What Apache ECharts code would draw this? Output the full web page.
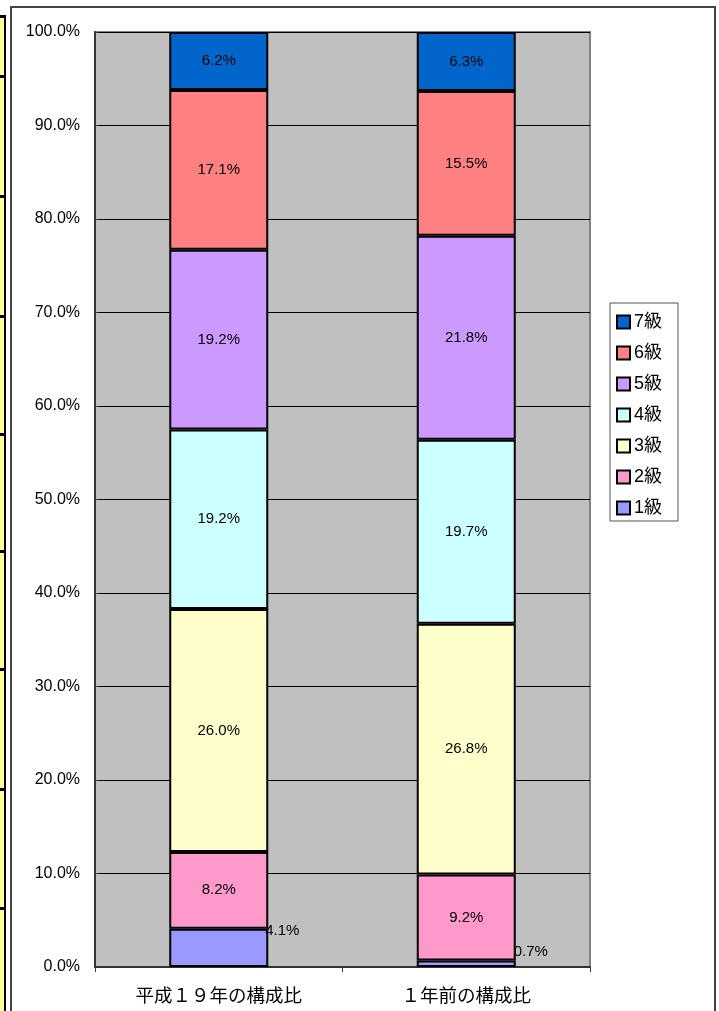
<!DOCTYPE html>
<html>
<head>
<meta charset="utf-8">
<script src="https://cdn.jsdelivr.net/npm/echarts@6/dist/echarts.min.js"></script>
<style>
  html, body { margin: 0; padding: 0; background: #fff; }
  #main { width: 719px; height: 1011px; }
</style>
</head>
<body>
<div id="main"></div>
<script>
// categories / series
const categories = ['平成１９年の構成比', '１年前の構成比'];
const grades = ['1級', '2級', '3級', '4級', '5級', '6級', '7級'];
const colors = ['#9999ff', '#ff99cc', '#ffffcc', '#ccffff', '#cc99ff', '#ff8080', '#0066cc'];
// percentage of each grade, [平成19年, 1年前]
const grade1 = [4.1, 0.7];
const grade2 = [8.2, 9.2];
const grade3 = [26.0, 26.8];
const grade4 = [19.2, 19.7];
const grade5 = [19.2, 21.8];
const grade6 = [17.1, 15.5];
const grade7 = [6.2, 6.3];
const yTicks = [0, 10, 20, 30, 40, 50, 60, 70, 80, 90, 100];

const seriesValues = [grade1, grade2, grade3, grade4, grade5, grade6, grade7];
const font = '"Liberation Sans", "Noto Sans CJK JP", sans-serif';
const cjkFont = '"Noto Sans CJK JP", sans-serif';

const chart = echarts.init(document.getElementById('main'), null, { renderer: 'canvas' });

const series = grades.map(function (name, i) {
  let data = seriesValues[i].slice();
  if (i === 0) {
    // 1級 labels sit just outside the bar on the right
    const offs = [[-3, 2], [-2, -9]];
    data = data.map(function (v, j) {
      return {
        value: v,
        label: {
          position: ['100%', 0],
          align: 'left',
          verticalAlign: 'middle',
          offset: offs[j]
        }
      };
    });
  }
  return {
    name: name,
    type: 'bar',
    stack: 'total',
    barWidth: '40%',
    data: data,
    itemStyle: { color: colors[i], borderColor: '#000', borderWidth: 2 },
    label: {
      show: true,
      position: 'inside',
      color: '#000',
      fontSize: 15,
      fontFamily: font,
      formatter: function (p) { return p.value.toFixed(1) + '%'; }
    },
    emphasis: { disabled: true }
  };
});

// left strip (sheet cells) lines
const cellLines = [15, 75, 195, 315, 433, 550, 668, 788, 907];
const graphics = [
  { type: 'rect', shape: { x: 0, y: 15, width: 5, height: 1000 }, style: { fill: '#ffff99' }, z: -10 },
  { type: 'rect', shape: { x: 4, y: 15, width: 2, height: 1000 }, style: { fill: '#000' }, z: -9 },
  { type: 'rect', shape: { x: 11, y: 7, width: 704, height: 1020 }, style: { fill: 'none', stroke: '#444', lineWidth: 2 }, z: -10 }
];
cellLines.forEach(function (y) {
  graphics.push({ type: 'rect', shape: { x: 0, y: y, width: 6, height: 3 }, style: { fill: '#000' }, z: -9 });
});

const option = {
  backgroundColor: '#fff',
  animation: false,
  textStyle: { fontFamily: font },
  graphic: graphics,
  grid: {
    left: 95, right: 129, top: 32, bottom: 44,
    show: true,
    backgroundColor: '#c0c0c0',
    borderColor: '#808080',
    borderWidth: 2
  },
  legend: {
    orient: 'vertical',
    left: 610,
    top: 303,
    width: 74,
    data: grades.slice().reverse(),
    icon: 'rect',
    itemWidth: 13,
    itemHeight: 13,
    itemGap: 13,
    padding: [10, 16, 4, 6],
    backgroundColor: '#fff',
    borderColor: '#555',
    borderWidth: 1,
    textStyle: { fontSize: 18, color: '#000', fontFamily: font, padding: [0, 0, 0, -1] },
    selectedMode: false
  },
  xAxis: {
    type: 'category',
    data: categories,
    axisLine: { lineStyle: { color: '#333', width: 2 } },
    axisTick: { show: true, length: 5, lineStyle: { color: '#333' } },
    axisLabel: { fontSize: 18.5, color: '#000', margin: 19, fontFamily: cjkFont }
  },
  yAxis: {
    type: 'value',
    min: yTicks[0],
    max: yTicks[yTicks.length - 1],
    interval: 10,
    axisLine: { show: true, lineStyle: { color: '#333', width: 2 } },
    axisTick: { show: true, inside: true, length: 4, lineStyle: { color: '#333' } },
    axisLabel: {
      fontSize: 16, color: '#000', margin: 15, fontFamily: font,
      formatter: function (v) { return v.toFixed(1) + '%'; }
    },
    splitLine: { show: true, lineStyle: { color: '#000', width: 1 } }
  },
  series: series
};

chart.setOption(option);
</script>
</body>
</html>
